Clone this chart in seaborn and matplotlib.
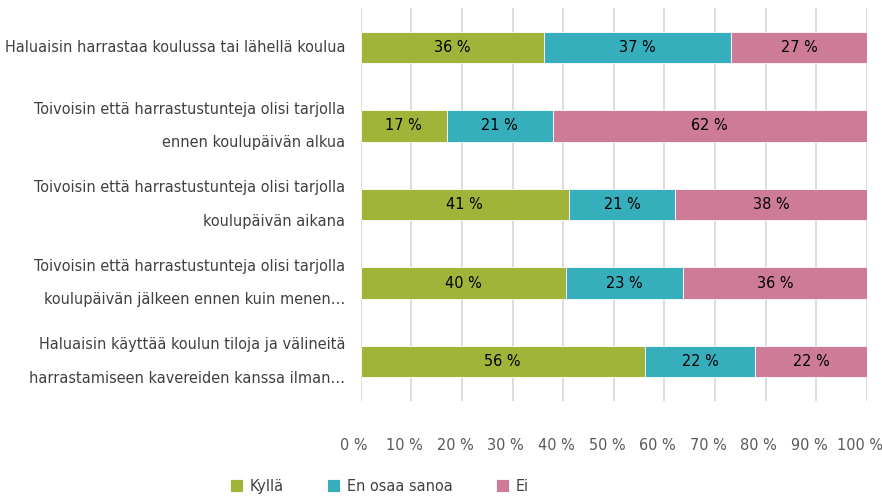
import matplotlib
matplotlib.use("Agg")
import matplotlib.pyplot as plt
import matplotlib.transforms as mtransforms
import seaborn as sns
import pandas as pd
import numpy as np

categories = [
    "Haluaisin harrastaa koulussa tai lähellä koulua",
    "Toivoisin että harrastustunteja olisi tarjolla\nennen koulupäivän alkua",
    "Toivoisin että harrastustunteja olisi tarjolla\nkoulupäivän aikana",
    "Toivoisin että harrastustunteja olisi tarjolla\nkoulupäivän jälkeen ennen kuin menen…",
    "Haluaisin käyttää koulun tiloja ja välineitä\nharrastamiseen kavereiden kanssa ilman…",
]
kylla = [36.2, 17.0, 41.1, 40.5, 56.1]
en_osaa = [36.9, 20.9, 21.0, 23.1, 21.8]
ei = [26.9, 62.1, 37.9, 36.4, 22.1]
series_names = ["Kyllä", "En osaa sanoa", "Ei"]
colors = ["#A0B43A", "#36AEBB", "#CE7B98"]
xticks = [0, 10, 20, 30, 40, 50, 60, 70, 80, 90, 100]

sns.set_theme(style="white")
plt.rcParams["font.family"] = ["DejaVu Sans"]
plt.rcParams["font.stretch"] = "condensed"

FS = 11.6

fig = plt.figure(figsize=(8.82, 5.0), dpi=100)
ax = fig.add_axes([0.409, 0.198, 0.574, 0.786])

df = pd.DataFrame({"cat": categories, "Kyllä": kylla, "En osaa sanoa": en_osaa, "Ei": ei})
cum = np.zeros(len(categories))
handles = []
for name, col in zip(series_names, colors):
    vals = df[name].to_numpy(dtype=float)
    bars = ax.barh(np.arange(len(categories)), vals, left=cum, height=0.4, color=col,
                   edgecolor="white", linewidth=0.6, label=name, zorder=3)
    for i, v in enumerate(vals):
        ax.text(cum[i] + v / 2, i, f"{round(v):.0f} %", ha="center", va="center",
                fontsize=FS, color="black", zorder=4)
    cum += vals
    handles.append(bars)

ax.set_ylim(len(categories) - 0.5, -0.5)
ax.set_xlim(0, 100)
ax.set_yticks(np.arange(len(categories)))
ax.set_yticklabels(categories, fontsize=FS, color="#404040", linespacing=2.55, va="center")
ax.set_xticks(xticks)
ax.set_xticklabels([f"{t} %" for t in xticks], fontsize=FS, color="#595959")
ax.tick_params(axis="x", length=0, pad=27)
ax.tick_params(axis="y", length=0, pad=11)
shift = mtransforms.ScaledTranslation(-7 / 100, 0, fig.dpi_scale_trans)
for lab in ax.get_xticklabels():
    lab.set_transform(lab.get_transform() + shift)
ax.xaxis.grid(True, color="#D9D9D9", linewidth=1.3, zorder=0)
ax.yaxis.grid(False)
for s in ax.spines.values():
    s.set_visible(False)
ax.set_xlabel("")
ax.set_ylabel("")

leg = fig.legend(handles=handles, labels=series_names, loc="center",
                 bbox_to_anchor=(0.43, 0.027), ncol=3, frameon=False,
                 fontsize=FS, handlelength=0.8, handleheight=0.8,
                 columnspacing=2.7, handletextpad=0.4)
for t in leg.get_texts():
    t.set_color("#404040")

fig.savefig("out.png", dpi=100)
